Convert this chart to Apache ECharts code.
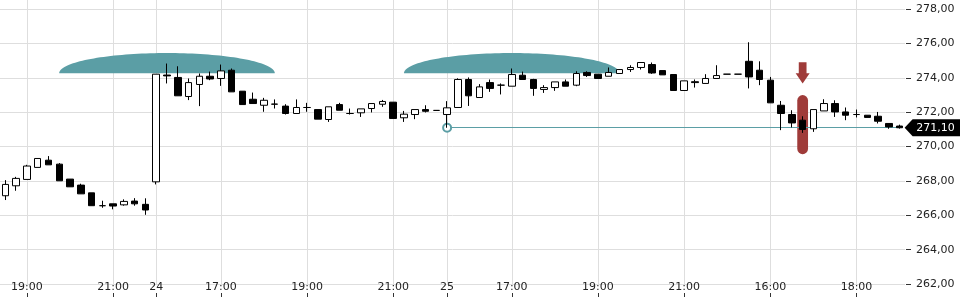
<!DOCTYPE html>
<html>
<head>
<meta charset="utf-8">
<script src="https://cdn.jsdelivr.net/npm/echarts@6/dist/echarts.min.js"></script>
<style>html,body{margin:0;padding:0;background:#fff}#c{width:960px;height:300px}</style>
</head>
<body>
<div id="c"></div>
<script>
const categories = [
  '23 18:30','23 18:45','23 19:00','23 19:15','23 19:30','23 19:45','23 20:00','23 20:15','23 20:30','23 20:45','23 21:00','23 21:15','23 21:30','23 21:45',
  '24 15:30','24 15:45','24 16:00','24 16:15','24 16:30','24 16:45','24 17:00','24 17:15','24 17:30','24 17:45','24 18:00','24 18:15','24 18:30','24 18:45','24 19:00','24 19:15','24 19:30','24 19:45','24 20:00','24 20:15','24 20:30','24 20:45','24 21:00','24 21:15','24 21:30','24 21:45','24 22:00',
  '25 15:30','25 15:45','25 16:00','25 16:15','25 16:30','25 16:45','25 17:00','25 17:15','25 17:30','25 17:45','25 18:00','25 18:15','25 18:30','25 18:45','25 19:00','25 19:15','25 19:30','25 19:45','25 20:00','25 20:15','25 20:30','25 20:45','25 21:00','25 21:15','25 21:30','25 21:45','25 22:00',
  '26 15:15','26 15:30','26 15:45','26 16:00','26 16:15','26 16:30','26 16:45','26 17:00','26 17:15','26 17:30','26 17:45','26 18:00','26 18:15','26 18:30','26 18:45','26 19:00'
];
const opens  = [267.14,267.72,268.09,268.79,269.21,268.98,268.11,267.76,267.31,266.56,266.67,266.61,266.83,266.64,
  267.95,274.17,274.03,272.92,273.62,274.10,273.97,274.45,273.23,272.76,272.41,272.47,272.36,271.93,272.28,272.16,271.58,272.45,271.93,271.97,272.22,272.47,272.59,271.68,271.87,272.16,272.11,
  271.87,272.28,273.91,272.86,273.73,273.58,273.52,274.16,273.91,273.33,273.44,273.77,273.58,274.32,274.22,274.10,274.26,274.49,274.61,274.78,274.43,274.20,273.27,273.78,273.68,273.97,274.22,
  274.22,274.97,274.45,273.87,272.41,271.87,271.54,271.04,272.08,272.51,272.02,271.87,271.83,271.77,271.35,271.20];
const closes = [267.80,268.15,268.87,269.31,268.94,268.01,267.66,267.25,266.56,266.56,266.54,266.81,266.67,266.31,
  274.22,274.12,272.96,273.73,274.10,273.94,274.41,273.19,272.45,272.51,272.70,272.48,271.93,272.28,272.28,271.60,272.32,272.12,271.93,272.20,272.51,272.63,271.64,271.89,272.16,272.06,272.11,
  272.26,273.91,272.96,273.48,273.39,273.58,274.20,273.91,273.39,273.44,273.77,273.52,274.26,274.14,273.97,274.32,274.49,274.61,274.90,274.29,274.18,273.27,273.83,273.73,273.97,274.14,274.22,
  274.22,274.06,273.91,272.55,271.93,271.38,271.00,272.16,272.51,272.02,271.83,271.87,271.70,271.48,271.15,271.10];
const lows   = [266.89,267.43,268.09,268.79,268.94,268.01,267.66,267.25,266.56,266.44,266.35,266.56,266.56,266.03,
  267.80,273.68,272.96,272.71,272.36,273.87,273.54,273.19,272.45,272.51,272.03,272.22,271.87,271.93,272.03,271.60,271.44,272.12,271.87,271.73,271.99,272.32,271.64,271.44,271.60,271.99,272.11,
  271.10,272.28,272.37,272.86,273.19,273.04,273.52,273.91,272.96,273.13,273.25,273.52,273.52,274.06,273.97,274.10,274.26,274.35,274.49,274.24,274.18,273.27,273.27,273.44,273.68,273.97,274.22,
  274.22,273.39,273.58,272.55,270.96,271.12,270.80,270.86,272.08,271.73,271.54,271.70,271.70,271.35,271.04,271.05];
const highs  = [268.05,268.24,268.94,269.31,269.45,269.04,268.11,267.84,267.31,266.85,266.67,266.93,267.00,266.99,
  274.22,274.84,274.68,273.97,274.26,274.37,274.78,274.55,273.23,273.15,272.84,272.75,272.47,272.75,272.55,272.16,272.32,272.55,272.22,272.20,272.51,272.72,272.59,272.08,272.16,272.41,272.11,
  272.65,273.98,274.03,273.64,273.91,273.68,274.55,274.37,273.95,273.58,273.77,273.91,274.39,274.39,274.22,274.61,274.52,274.74,274.90,274.90,274.43,274.20,273.83,273.91,274.22,274.74,274.22,
  274.22,276.08,274.97,274.06,272.66,272.12,271.77,272.16,272.76,272.70,272.28,272.16,271.83,272.02,271.35,271.28];
const shownLabelIdx = [2,10,14,20,28,36,41,47,55,63,71,79];
const yTicks = [262,264,266,268,270,272,274,276,278];
const lastPrice = 271.10;
const refStartIdx = 41;
// zones: [startIdx, endIdx, bottom, top]
const zones = [[5,25,274.28,275.45],[37,57,274.28,275.45]];
// signal: [idx, low, high] bar and [idx, top, headStart, tip] arrow
const signalBar = [[74,269.56,273.00]];
const signalArrow = [[74,274.91,274.27,273.68]];

const ohlc = opens.map((o,i)=>[o, closes[i], lows[i], highs[i]]);
const FONT = 'DejaVu Sans';
const showFn = (i) => shownLabelIdx.indexOf(i) >= 0;
const fmtNum = v => v.toFixed(2).replace('.', ',');
const gridColors = yTicks.map(()=> '#dedede').concat(['rgba(0,0,0,0)']);
const TEAL = '#5b9ea5';
const RED = '#9f3b39';
const CLEAR = 'rgba(0,0,0,0)';

const chart = echarts.init(document.getElementById('c'), null, {renderer:'canvas'});
chart.setOption({
  animation: false,
  backgroundColor: '#fff',
  grid: {left: 0, right: 55, top: 0, bottom: 16, containLabel: false, outerBoundsMode: 'none'},
  xAxis: {
    type: 'category', data: categories, boundaryGap: true, offset: 9,
    axisLine: {show: true, lineStyle: {color: CLEAR}},
    axisTick: {show: true, alignWithLabel: true, interval: showFn, length: 4, lineStyle: {color: '#333'}},
    axisLabel: {
      interval: showFn, margin: -6, verticalAlign: 'middle', color: '#222', fontFamily: FONT, fontSize: 11,
      formatter: (value, index) => {
        const p = value.split(' ');
        const prev = categories[index - 1];
        if (!prev || prev.split(' ')[0] !== p[0]) return p[0];
        return p[1];
      }
    },
    splitLine: {show: true, interval: showFn, alignWithLabel: true, lineStyle: {color: '#dedede', width: 1}}
  },
  yAxis: {
    type: 'value', position: 'right', min: 262, max: 278.54, interval: 2, offset: 1,
    axisLine: {show: true, lineStyle: {color: CLEAR}},
    axisTick: {show: true, length: 5, lineStyle: {color: '#333'}, customValues: yTicks},
    axisLabel: {customValues: yTicks, margin: 10, color: '#222', fontFamily: FONT, fontSize: 11,
      formatter: v => (Math.abs(v % 2) < 1e-6 ? fmtNum(v) : '')},
    splitLine: {show: true, lineStyle: {color: gridColors, width: 1}}
  },
  series: [
    {
      type: 'custom', name: 'zones', z: 2, silent: true,
      data: zones, encode: {x: 0, y: 2},
      renderItem: (params, api) => {
        const a = api.coord([api.value(0), api.value(2)]);
        const b = api.coord([api.value(1), api.value(3)]);
        const cx = (a[0] + b[0]) / 2, rx = (b[0] - a[0]) / 2, ry = a[1] - b[1];
        const pts = [];
        for (let k = 0; k <= 80; k++) {
          const t = Math.PI * k / 80;
          pts.push([cx - rx * Math.cos(t), a[1] - ry * Math.sin(t)]);
        }
        return {type: 'polygon', shape: {points: pts}, style: {fill: TEAL}};
      },
      markLine: {
        silent: true, symbol: ['emptyCircle', 'none'], symbolSize: 8, animation: false,
        label: {show: false},
        lineStyle: {color: TEAL, width: 1, type: 'solid'},
        data: [[{coord: [refStartIdx, lastPrice]}, {coord: [categories.length - 1, lastPrice]}]]
      },
      markPoint: {
        silent: true, animation: false,
        symbol: 'path://M0,8 L8,0 L56,0 L56,16 L8,16 Z', symbolSize: [56, 17], symbolKeepAspect: false,
        symbolOffset: [33, 0],
        itemStyle: {color: '#000'},
        label: {show: true, position: 'inside', offset: [3, 0], color: '#fff', fontFamily: FONT, fontSize: 11,
          formatter: () => fmtNum(lastPrice)},
        data: [{coord: [categories.length - 1, lastPrice]}]
      }
    },
    {
      type: 'custom', name: 'signalBar', z: 3, silent: true,
      data: signalBar, encode: {x: 0, y: 1},
      renderItem: (params, api) => {
        const top = api.coord([api.value(0), api.value(2)]);
        const bot = api.coord([api.value(0), api.value(1)]);
        const w = api.size([1, 0])[0] * 1.0;
        return {type: 'rect', shape: {x: top[0] - w / 2, y: top[1], width: w, height: bot[1] - top[1], r: w / 2}, style: {fill: RED}};
      }
    },
    {
      type: 'custom', name: 'signalArrow', z: 3, silent: true,
      data: signalArrow, encode: {x: 0, y: 1},
      renderItem: (params, api) => {
        const t = api.coord([api.value(0), api.value(1)]);
        const h = api.coord([api.value(0), api.value(2)]);
        const p = api.coord([api.value(0), api.value(3)]);
        const band = api.size([1, 0])[0];
        const sw = band * 0.36, hw = band * 0.65, x = t[0];
        return {type: 'polygon', shape: {points: [
          [x - sw, t[1]], [x + sw, t[1]], [x + sw, h[1]], [x + hw, h[1]], [x, p[1]], [x - hw, h[1]], [x - sw, h[1]]
        ]}, style: {fill: RED}};
      }
    },
    {
      type: 'candlestick', name: 'price', z: 10, barWidth: 7, silent: true,
      data: ohlc,
      itemStyle: {color: '#fff', color0: '#000', borderColor: '#000', borderColor0: '#000', borderColorDoji: '#000', borderWidth: 1}
    }
  ]
});
</script>
</body>
</html>
